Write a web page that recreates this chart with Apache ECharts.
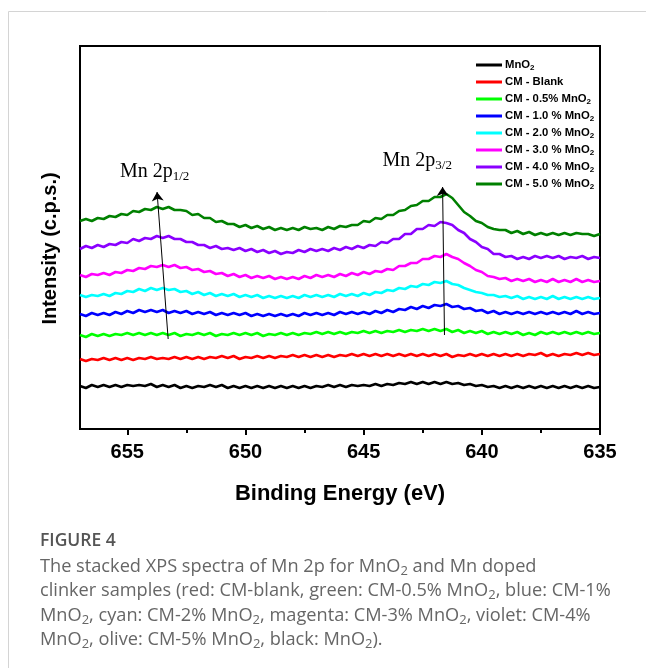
<!DOCTYPE html>
<html>
<head>
<meta charset="utf-8">
<script src="https://cdn.jsdelivr.net/npm/echarts@6/dist/echarts.min.js"></script>
<style>
html,body{margin:0;padding:0;background:#fff;}
#chart{width:646px;height:668px;}
</style>
</head>
<body>
<div id="chart"></div>
<script>
// Binding energy (eV)
const energies = [657,656.75,656.5,656.25,656,655.75,655.5,655.25,655,654.75,654.5,654.25,654,653.75,653.5,653.25,653,652.75,652.5,652.25,652,651.75,651.5,651.25,651,650.75,650.5,650.25,650,649.75,649.5,649.25,649,648.75,648.5,648.25,648,647.75,647.5,647.25,647,646.75,646.5,646.25,646,645.75,645.5,645.25,645,644.75,644.5,644.25,644,643.75,643.5,643.25,643,642.75,642.5,642.25,642,641.75,641.5,641.25,641,640.75,640.5,640.25,640,639.75,639.5,639.25,639,638.75,638.5,638.25,638,637.75,637.5,637.25,637,636.75,636.5,636.25,636,635.75,635.5,635.25,635];
// Stacked intensities (arbitrary units, offset)
const mno2 = [43,41,44,42,44,42,44,42,44,43, 44,43,45,42,44,42,44,41,43,41, 43,42,44,42,44,41,43,41,43,41, 43,41,43,41,43,41,43,41,43,41, 43,42,44,42,44,42,44,43,44,43, 45,43,45,44,46,45,47,45,47,45, 47,45,47,45,46,44,45,43,44,42, 43,41,43,41,43,41,43,41,43,41, 43,41,43,41,43,41,43,41,42];
const cmBlank = [70,68,70,69,71,69,71,69,71,69, 71,70,72,70,71,70,72,70,72,70, 72,70,72,71,73,71,73,70,72,71, 73,71,73,71,73,72,74,72,74,72, 74,72,74,72,74,73,75,73,75,73, 75,73,75,73,75,73,75,73,75,73, 75,73,75,72,74,73,75,73,75,73, 75,73,75,73,75,73,75,74,76,73, 75,73,75,74,76,74,76,74,75];
const cm05 = [94,92,95,93,95,93,95,94,96,94, 96,94,96,94,96,94,96,93,95,94, 96,94,96,93,95,94,96,94,96,94, 96,93,95,94,96,94,96,94,96,95, 97,95,97,95,97,95,97,96,98,96, 98,96,98,97,99,97,99,98,100,98, 100,98,100,97,99,96,98,96,98,95, 97,95,97,95,97,94,96,94,97,95, 97,95,97,95,97,95,97,95,96];
const cm10 = [115,113,116,114,116,114,117,115,118,116, 119,117,119,117,119,116,118,116,118,115, 117,115,117,114,116,114,116,114,116,113, 115,113,115,113,115,113,115,113,116,114, 116,114,116,114,117,115,117,115,117,115, 118,116,119,117,120,119,122,120,123,121, 124,123,125,122,123,120,121,118,119,116, 118,115,117,115,117,115,117,115,117,115, 117,115,117,115,118,115,117,115,116];
const cm20 = [134,132,134,133,135,133,136,135,138,137, 140,138,141,139,141,139,140,137,138,135, 137,134,136,133,135,133,135,132,134,132, 134,131,133,131,133,131,133,131,134,132, 134,132,134,132,135,133,135,133,136,134, 137,136,139,138,141,140,143,142,145,144, 147,146,148,145,144,141,139,137,136,134, 134,132,133,131,133,130,132,130,132,130, 133,130,132,130,132,130,132,130,131];
const cm30 = [154,152,155,154,156,154,157,156,159,158, 161,160,163,162,164,162,164,161,162,159, 160,157,158,155,156,153,155,152,154,151, 153,151,153,150,152,150,152,150,153,151, 154,152,154,152,155,153,156,154,157,155, 158,157,160,159,163,163,166,166,170,170, 173,172,175,172,170,166,163,159,157,153, 152,150,151,148,150,148,150,147,149,147, 150,147,149,147,150,147,149,147,148];
const cm40 = [180,183,181,184,182,185,184,187,186,190, 188,191,190,193,191,193,190,190,187,187, 184,184,181,183,180,181,179,181,178,180, 177,179,176,178,175,177,176,179,177,180, 178,180,178,181,179,182,180,183,181,184, 183,187,186,190,190,195,195,200,200,204, 203,207,206,204,199,196,190,187,182,180, 175,175,172,173,170,172,170,173,171,173, 171,173,170,172,171,173,170,172,171];
const cm50 = [208,210,208,211,210,213,212,215,214,218, 217,220,219,222,220,222,219,219,218,214, 215,211,211,207,208,205,205,202,204,201, 203,200,202,199,201,199,201,199,202,200, 201,199,202,200,203,202,204,204,208,207, 211,210,214,214,218,219,223,224,228,228, 232,232,235,231,224,217,213,208,206,202, 200,199,199,196,198,195,197,194,196,194, 196,194,196,194,196,195,195,193,195];

const seriesNames = ['MnO2','CM - Blank','CM - 0.5% MnO2','CM - 1.0 % MnO2','CM - 2.0 % MnO2','CM - 3.0 % MnO2','CM - 4.0 % MnO2','CM - 5.0 % MnO2'];
const seriesValues = [mno2, cmBlank, cm05, cm10, cm20, cm30, cm40, cm50];
const seriesColors = ['#000000','#ff0000','#00ff00','#0000ff','#00ffff','#ff00ff','#8a00ff','#008000'];

const xTicks = [635,640,645,650,655];

// annotation arrows [start, end] in data coords and labels
const arrow12 = [[653.27, 90], [653.74, 237]];
const arrow32 = [[641.58, 94], [641.66, 242]];
const label12 = {text: 'Mn 2p{s|1/2}', coord: [655.31, 257]};
const label32 = {text: 'Mn 2p{s|3/2}', coord: [644.20, 268]};

const chart = echarts.init(document.getElementById('chart'), null, {renderer: 'canvas'});

const series = seriesNames.map((name, k) => ({
  name: name,
  type: 'line',
  showSymbol: false,
  symbol: 'none',
  smooth: false,
  color: seriesColors[k],
  lineStyle: {color: seriesColors[k], width: 2.6},
  data: energies.map((e, i) => [e, seriesValues[k][i]]),
  z: 3
}));

series.push({
  name: 'annotations',
  type: 'line',
  data: [],
  silent: true,
  color: '#000',
  markLine: {
    silent: true,
    symbol: ['none', 'arrow'],
    symbolSize: 9,
    label: {show: false},
    itemStyle: {color: '#000'},
    lineStyle: {color: '#000', width: 1, type: 'solid'},
    data: [
      [{coord: arrow12[0]}, {coord: arrow12[1]}],
      [{coord: arrow32[0]}, {coord: arrow32[1]}]
    ],
    animation: false
  },
  markPoint: {
    silent: true,
    symbol: 'circle',
    symbolSize: 0,
    label: {
      show: true,
      position: 'right',
      distance: 0,
      color: '#000',
      fontFamily: 'Liberation Serif',
      fontSize: 20,
      lineHeight: 23,
      formatter: p => p.name,
      rich: {s: {fontFamily: 'Liberation Serif', fontSize: 13, lineHeight: 13, verticalAlign: 'bottom', color: '#000'}}
    },
    data: [
      {name: label12.text, coord: label12.coord},
      {name: label32.text, coord: label32.coord}
    ]
  }
});

const captionRich = {s: {fontFamily: 'Open Sans', fontSize: 13, lineHeight: 12, verticalAlign: 'bottom', fill: '#666'}};
function capLine(text, y) {
  return {
    type: 'text', silent: true,
    style: {text: text, x: 40, y: y, fill: '#666', fontFamily: 'Open Sans', fontSize: 18.2, lineHeight: 21,
            verticalAlign: 'middle', rich: captionRich}
  };
}

chart.setOption({
  animation: false,
  backgroundColor: '#fff',
  grid: {left: 80, right: 46, top: 46, bottom: 239, show: true, borderColor: '#000', borderWidth: 2, backgroundColor: 'transparent'},
  legend: {
    orient: 'vertical',
    left: 476,
    top: 58,
    padding: 0,
    itemGap: 3,
    itemWidth: 26,
    itemHeight: 3,
    icon: 'rect',
    selectedMode: false,
    data: seriesNames,
    formatter: n => n.replace(/MnO2$/, 'MnO{s|2}'),
    textStyle: {
      fontFamily: 'Liberation Sans', fontWeight: 'bold', fontSize: 11.3, lineHeight: 14, color: '#000', padding: [0,0,0,-2],
      rich: {s: {fontFamily: 'Liberation Sans', fontWeight: 'bold', fontSize: 8, lineHeight: 8, verticalAlign: 'bottom', color: '#000'}}
    }
  },
  xAxis: {
    type: 'value',
    inverse: true,
    min: 635,
    max: 657,
    interval: 5,
    name: 'Binding Energy (eV)',
    nameLocation: 'middle',
    nameGap: 54,
    nameTextStyle: {fontFamily: 'Liberation Sans', fontWeight: 'bold', fontSize: 22, color: '#000'},
    axisLine: {show: true, lineStyle: {color: '#000', width: 2}},
    axisTick: {show: true, length: 6, lineStyle: {color: '#000', width: 2}, customValues: xTicks},
    minorTick: {show: true, splitNumber: 2, length: 4, lineStyle: {color: '#000', width: 2}},
    axisLabel: {show: true, margin: 13, fontFamily: 'Liberation Sans', fontWeight: 'bold', fontSize: 20, color: '#000', customValues: xTicks},
    splitLine: {show: false}
  },
  yAxis: {
    type: 'value',
    min: 0,
    max: 383,
    name: 'Intensity (c.p.s.)',
    nameLocation: 'middle',
    nameRotate: 90,
    nameGap: 20,
    nameTextStyle: {fontFamily: 'Liberation Sans', fontWeight: 'bold', fontSize: 20, color: '#000', padding: [0, 22, 0, 0]},
    axisLine: {show: true, lineStyle: {color: '#000', width: 2}},
    axisTick: {show: false},
    axisLabel: {show: false},
    splitLine: {show: false}
  },
  series: series,
  graphic: [
    {type: 'line', silent: true, shape: {x1: 8.5, y1: 11.5, x2: 646, y2: 11.5}, style: {stroke: '#d4d4d4', lineWidth: 1}},
    {type: 'line', silent: true, shape: {x1: 8.5, y1: 11.5, x2: 8.5, y2: 668}, style: {stroke: '#d4d4d4', lineWidth: 1}},
    {type: 'text', silent: true, style: {text: 'FIGURE 4', x: 40, y: 541, fill: '#555', fontFamily: 'Open Sans', fontWeight: 600, fontSize: 17.5, verticalAlign: 'middle'}},
    capLine('The stacked XPS spectra of Mn 2p for MnO{s|2} and Mn doped', 567),
    capLine('clinker samples (red: CM-blank, green: CM-0.5% MnO{s|2}, blue: CM-1%', 591),
    capLine('MnO{s|2}, cyan: CM-2% MnO{s|2}, magenta: CM-3% MnO{s|2}, violet: CM-4%', 616),
    capLine('MnO{s|2}, olive: CM-5% MnO{s|2}, black: MnO{s|2}).', 640)
  ]
});
</script>
</body>
</html>
